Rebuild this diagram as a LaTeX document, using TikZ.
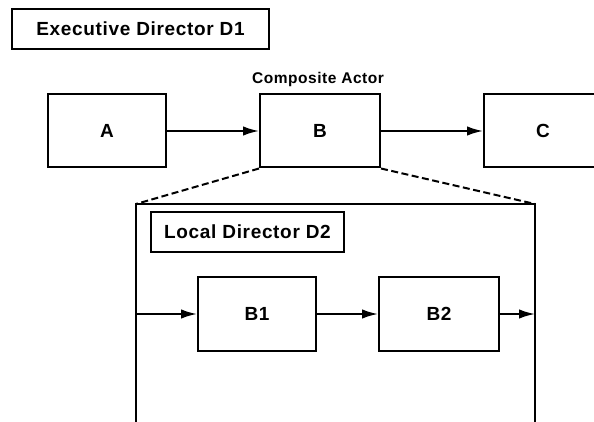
\documentclass[tikz,border=0pt]{standalone}
\usepackage{fontspec}
\setmainfont{Liberation Sans}
\newfontfamily\widesans[LetterSpace=3.5]{Liberation Sans}
\usetikzlibrary{arrows.meta}
\begin{document}
\begin{tikzpicture}[x=1pt,y=-1pt,
  box/.style={draw,line width=2pt,rectangle,inner sep=0pt,font=\widesans\bfseries\fontsize{19}{21}\selectfont},
  actor/.style={box,minimum width=118pt,minimum height=73pt},
  dirbox/.style={box,minimum height=40pt},
  flow/.style={line width=2pt,-{Latex[length=16pt,width=9.5pt]}},
  zoomline/.style={line width=2pt,dash pattern=on 7pt off 3.5pt}]
\useasboundingbox (0,0) rectangle (594,422);
\clip (0,0) rectangle (594,422);
\node[dirbox,minimum width=257pt] (d1) at (140.5,29) {Executive Director D1};
\node[actor] (a) at (107,131) {A};
\node[actor,minimum width=120pt] (b) at (320,131) {B};
\node[actor] (c) at (543,131) {C};
\node[font=\widesans\bfseries\fontsize{15.5}{17}\selectfont] (lbl) at (318,79) {Composite Actor};
\draw[flow] (a) -- (b);
\draw[flow] (b) -- (c);
% expanded composite
\coordinate (tl) at (136,204);
\coordinate (tr) at (535,204);
\coordinate (bl) at (136,430);
\coordinate (br) at (535,430);
\draw[line width=2pt] (bl) -- (tl) -- (tr) -- (br);
\draw[zoomline] (b.south west) -- (tl);
\draw[zoomline] (b.south east) -- (tr);
\node[dirbox,minimum width=193pt] (d2) at (247.5,232) {Local Director D2};
\node[actor,minimum height=74pt] (b1) at (257,314) {B1};
\node[actor,minimum width=120pt,minimum height=74pt] (b2) at (439,314) {B2};
\coordinate (inL) at (136,314);
\coordinate (outR) at (535,314);
\draw[flow] (inL) -- (b1);
\draw[flow] (b1) -- (b2);
\draw[flow] (b2) -- (outR);
\end{tikzpicture}
\end{document}
